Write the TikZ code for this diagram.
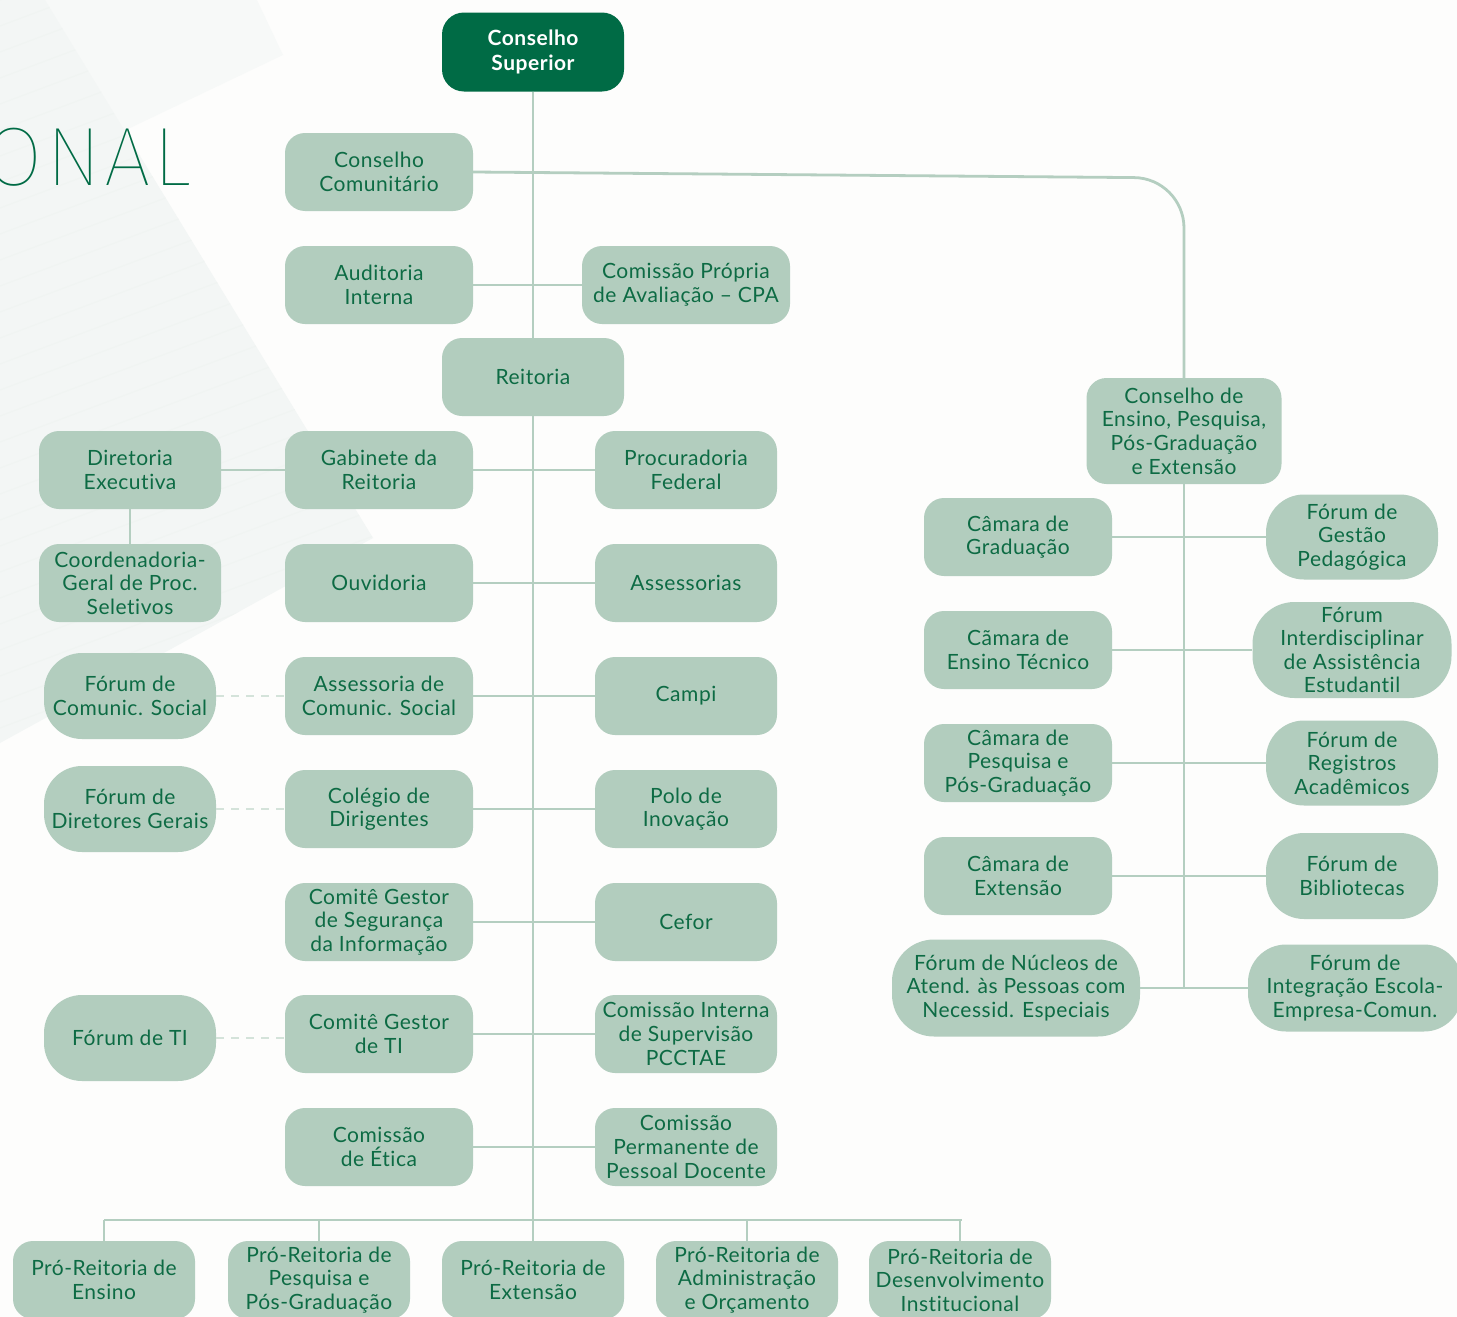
\documentclass[tikz,border=0pt]{standalone}
\usepackage{fontspec}
\setmainfont{Lato}[LetterSpace=2.5, Ligatures={NoCommon}]
\IfFontExistsTF{Fira Sans Thin}{\newfontfamily\thinfont{Fira Sans Thin}[LetterSpace=4]}{\IfFontExistsTF{Fira Sans Light}{\newfontfamily\thinfont{Fira Sans Light}[LetterSpace=4]}{\newfontfamily\thinfont{Lato}}}
\definecolor{boxc}{HTML}{B2CDBE}
\definecolor{txtc}{HTML}{0D6B44}
\definecolor{darkc}{HTML}{006B45}
\definecolor{linec}{HTML}{B4CEC0}
\definecolor{dashc}{HTML}{D4E3DA}
\definecolor{bgA}{HTML}{F3F6F5}
\definecolor{bgB}{HTML}{F7F9F8}
\definecolor{stripec}{HTML}{F0F4F2}
\definecolor{pagec}{HTML}{FDFDFC}
\tikzset{
  box/.style={fill=boxc, rounded corners=20pt, minimum width=188pt, minimum height=78pt,
    align=center, text=txtc, font=\fontsize{21}{23.6}\selectfont, inner sep=0pt},
  narrowbox/.style={box, minimum width=182pt},
  pill/.style={box, rounded corners=38pt, minimum width=172pt, minimum height=86pt},
  topbox/.style={narrowbox, fill=darkc, text=white, rounded corners=22pt, minimum height=79pt,
    font=\fontsize{21}{25}\selectfont\bfseries},
  conn/.style={draw=linec, line width=2.8pt},
  dconn/.style={draw=dashc, line width=2.8pt, dash pattern=on 8pt off 7pt},
}
\begin{document}
\begin{tikzpicture}[x=1pt,y=-1pt]
\useasboundingbox (0,0) rectangle (1457,1317);
\fill[pagec] (0,0) rectangle (1457,1317);
% faint background shapes
\fill[bgB] (45,0) -- (257,0) -- (283,55) -- (0,190) -- (0,0) -- cycle;
\fill[bgA] (0,0) -- (45,0) -- (373,538) -- (0,743) -- cycle;
\begin{scope}
  \clip (0,0) -- (45,0) -- (373,538) -- (0,743) -- cycle;
  \foreach \k in {0,26,...,900}
    \draw[stripec, line width=1pt] (0,\k) -- (400,\k-150);
\end{scope}
% title fragment
\node[anchor=base east, text=darkc, inner sep=0pt, font=\thinfont\fontsize{83}{83}\selectfont] (ttl) at (192,185) {ONAL};

% central column
\node[topbox] (cs) at (533,52) {Conselho\\Superior};
\node[box] (cc) at (379,172) {Conselho\\Comunitário};
\node[box] (aud) at (379,285) {Auditoria\\Interna};
\node[box, minimum width=208pt] (cpa) at (686,285) {Comissão Própria\\de Avaliação – CPA};
\node[narrowbox] (reit) at (533,377) {Reitoria};
\node[narrowbox] (dir) at (130,470) {Diretoria\\Executiva};
\node[box] (gab) at (379,470) {Gabinete da\\Reitoria};
\node[narrowbox] (proc) at (686,470) {Procuradoria\\Federal};
\node[narrowbox] (coord) at (130,583) {Coordenadoria-\\Geral de Proc.\\Seletivos};
\node[box] (ouv) at (379,583) {Ouvidoria};
\node[narrowbox] (ass) at (686,583) {Assessorias};
\node[pill] (fcs) at (130,696) {Fórum de\\Comunic. Social};
\node[box] (acs) at (379,696) {Assessoria de\\Comunic. Social};
\node[narrowbox] (campi) at (686,696) {Campi};
\node[pill] (fdg) at (130,809) {Fórum de\\Diretores Gerais};
\node[box] (col) at (379,809) {Colégio de\\Dirigentes};
\node[narrowbox] (polo) at (686,809) {Polo de\\Inovação};
\node[box] (cgsi) at (379,922) {Comitê Gestor\\de Segurança\\da Informação};
\node[narrowbox] (cefor) at (686,922) {Cefor};
\node[pill] (fti) at (130,1038) {Fórum de TI};
\node[box] (cgti) at (379,1034) {Comitê Gestor\\de TI};
\node[narrowbox] (cis) at (686,1034) {Comissão Interna\\de Supervisão\\PCCTAE};
\node[box] (cet) at (379,1147) {Comissão\\de Ética};
\node[narrowbox] (cpp) at (686,1147) {Comissão\\Permanente de\\Pessoal Docente};

% bottom row
\node[narrowbox] (pr1) at (104,1280) {Pró-Reitoria de\\Ensino};
\node[narrowbox] (pr2) at (319,1280) {Pró-Reitoria de\\Pesquisa e\\Pós-Graduação};
\node[narrowbox] (pr3) at (533,1280) {Pró-Reitoria de\\Extensão};
\node[narrowbox] (pr4) at (747,1280) {Pró-Reitoria de\\Administração\\e Orçamento};
\node[narrowbox] (pr5) at (960,1280) {Pró-Reitoria de\\Desenvolvimento\\Institucional};

% right column
\node[box, minimum width=195pt, minimum height=106pt] (cepe) at (1184,431) {Conselho de\\Ensino, Pesquisa,\\Pós-Graduação\\e Extensão};
\node[box] (cg) at (1018,537) {Câmara de\\Graduação};
\node[box] (cetec) at (1018,650) {Cãmara de\\Ensino Técnico};
\node[box] (cpg) at (1018,763) {Câmara de\\Pesquisa e\\Pós-Graduação};
\node[box] (cext) at (1018,876) {Câmara de\\Extensão};
\node[pill, minimum width=248pt, minimum height=97pt, rounded corners=42pt] (fni) at (1016,988) {Fórum de Núcleos de\\Atend. às Pessoas com\\Necessid. Especiais};
\node[pill, minimum height=85pt] (fgp) at (1352,537) {Fórum de\\Gestão\\Pedagógica};
\node[pill, minimum width=199pt, minimum height=96pt, rounded corners=42pt] (fia) at (1352,650) {Fórum\\Interdisciplinar\\de Assistência\\Estudantil};
\node[pill, minimum height=85pt] (fra) at (1352,763) {Fórum de\\Registros\\Acadêmicos};
\node[pill] (fbib) at (1352,876) {Fórum de\\Bibliotecas};
\node[pill, minimum width=214pt, minimum height=87pt] (fie) at (1355,988) {Fórum de\\Integração Escola-\\Empresa-Comun.};

% connectors: central trunk
\coordinate (bus) at (533,1220);
\coordinate (busL) at (104,1220);
\coordinate (busR) at (962,1220);
\draw[conn] (cs.south) -- (reit.north);
\draw[conn] (reit.south) -- (bus);
\draw[conn, rounded corners=50pt] (cc.east) -- (cepe.north |- 0,178) -- (cepe.north);
\draw[conn] (aud.east) -- (cpa.west);
\draw[conn] (gab.east) -- (proc.west);
\draw[conn] (ouv.east) -- (ass.west);
\draw[conn] (acs.east) -- (campi.west);
\draw[conn] (col.east) -- (polo.west);
\draw[conn] (cgsi.east) -- (cefor.west);
\draw[conn] (cgti.east) -- (cis.west);
\draw[conn] (cet.east) -- (cpp.west);
\draw[conn] (dir.east) -- (gab.west);
\draw[conn] (dir.south) -- (coord.north);
\draw[dconn] (fcs.east) -- (fcs.east -| acs.west);
\draw[dconn] (fdg.east) -- (fdg.east -| col.west);
\draw[dconn] (fti.east) -- (fti.east -| cgti.west);
% bottom bus
\draw[conn] (busL) -- (busR);
\draw[conn] (busL) -- (pr1.north);
\draw[conn] (pr2.north |- bus) -- (pr2.north);
\draw[conn] (bus) -- (pr3.north);
\draw[conn] (pr4.north |- bus) -- (pr4.north);
\draw[conn] (pr5.north |- bus) -- (pr5.north);
% right trunk
\draw[conn] (cepe.south) -- (cepe.south |- fni.east);
\draw[conn] (cg.east) -- (fgp.west);
\draw[conn] (cetec.east) -- (fia.west);
\draw[conn] (cpg.east) -- (fra.west);
\draw[conn] (cext.east) -- (fbib.west);
\draw[conn] (fni.east) -- (fie.west);
\end{tikzpicture}
\end{document}
